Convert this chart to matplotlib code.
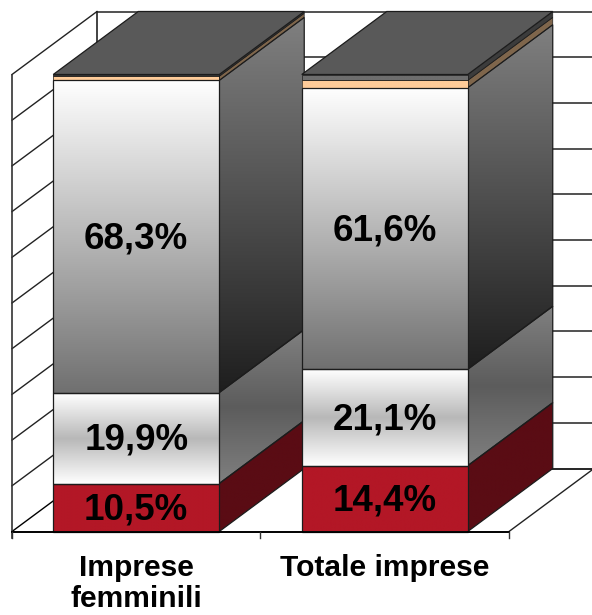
import matplotlib
matplotlib.use("Agg")
import matplotlib.pyplot as plt
import numpy as np
from matplotlib.colors import LinearSegmentedColormap
from matplotlib.patches import Polygon

plt.rcParams['font.family'] = ['Liberation Sans', 'DejaVu Sans']

categories = ["Imprese\nfemminili", "Totale imprese"]
red_values = [10.5, 14.4]
light_values = [19.9, 21.1]
main_values = [68.3, 61.6]
orange_values = [0.9, 1.6]
grey_values = [0.4, 1.3]
shown_labels = [["10,5%", "19,9%", "68,3%"], ["14,4%", "21,1%", "61,6%"]]
grid_ticks = list(range(0, 101, 10))

# scale of the drawing, in pixels per data unit
W, H = 592, 615
PX_X, PX_Y = 248.5, 4.57
X0_PX, Y0_PX = 12, 531.5
BAR_W = 166 / PX_X
DX, DY = 85 / PX_X, 63 / PX_Y
EDGE = "#1c1c1c"

fig = plt.figure(figsize=(W / 100, H / 100), dpi=100)
ax = fig.add_axes([0, 0, 1, 1])
ax.axis("off")
xlim = (-X0_PX / PX_X, (W - X0_PX) / PX_X)
ylim = (-(H - Y0_PX) / PX_Y, Y0_PX / PX_Y)


def gradient_poly(points, colors, z, lw):
    # vertical gradient clipped to a polygon
    pts = np.array(points)
    cmap = LinearSegmentedColormap.from_list("g", colors)
    ramp = np.linspace(0, 1, 256).reshape(-1, 1)
    ext = (pts[:, 0].min(), pts[:, 0].max(), pts[:, 1].min(), pts[:, 1].max())
    im = ax.imshow(ramp, extent=ext, origin="upper", cmap=cmap, aspect="auto",
                   zorder=z, interpolation="bilinear")
    poly = Polygon(pts, closed=True, facecolor="none", edgecolor=EDGE, lw=lw, zorder=z + 0.1)
    ax.add_patch(poly)
    im.set_clip_path(poly)


def draw_segment(x, bottom, height, front, side, z, lw=0.9):
    top = bottom + height
    gradient_poly([(x + BAR_W, bottom), (x + BAR_W + DX, bottom + DY),
                   (x + BAR_W + DX, top + DY), (x + BAR_W, top)], side, z, lw)
    gradient_poly([(x, bottom), (x + BAR_W, bottom), (x + BAR_W, top), (x, top)], front, z + 0.2, lw)


# walls and floor
for t in grid_ticks[1:]:
    ax.plot([DX, xlim[1]], [t + DY, t + DY], color="#333333", lw=1.2, zorder=1)
    ax.plot([0, DX], [t, t + DY], color="#222222", lw=1.0, zorder=1)
ax.plot([DX, xlim[1]], [DY, DY], color="black", lw=1.2, zorder=1)
ax.plot([0, DX], [0, DY], color="black", lw=1.0, zorder=1)
ax.plot([2, 2 + DX], [0, DY], color="#222222", lw=1.0, zorder=1)
ax.plot([0, 0], [-1.5, 100], color="#333333", lw=1.2, zorder=1)
ax.plot([DX, DX], [DY, 100 + DY], color="#222222", lw=1.2, zorder=1)
ax.plot([0, 2], [0, 0], color="black", lw=1.4, zorder=8)
for xt in [0, 1, 2]:
    ax.plot([xt, xt], [-1.5, 0], color="#333333", lw=1.0, zorder=8)

# stacked bars, left one first so the right one overlaps it
for i in range(len(categories)):
    x = i + (1 - BAR_W) / 2
    z = 2 + i
    segs = [
        (red_values[i], ["#b31726", "#b31726"], ["#5a0c14", "#5a0c14"], 0.9),
        (light_values[i], ["#ffffff", "#b8b8b8", "#ffffff"], ["#808080", "#5c5c5c", "#808080"], 0.9),
        (main_values[i], ["#ffffff", "#707070"], ["#808080", "#1e1e1e"], 0.9),
        (orange_values[i], ["#ffcc99", "#ffcc99"], ["#7f664c", "#7f664c"], 0.5),
        (grey_values[i], ["#6e6e6e", "#6e6e6e"], ["#3c3c3c", "#3c3c3c"], 0.5),
    ]
    bottom = 0
    for value, front, side, lw in segs:
        draw_segment(x, bottom, value, front, side, z, lw)
        bottom += value
    ax.add_patch(Polygon([(x, bottom), (x + BAR_W, bottom), (x + BAR_W + DX, bottom + DY), (x + DX, bottom + DY)],
                         closed=True, facecolor="#595959", edgecolor=EDGE, lw=0.9, zorder=z + 0.5))

    centers = [red_values[i] / 2, red_values[i] + light_values[i] / 2,
               red_values[i] + light_values[i] + main_values[i] / 2]
    for c, lab in zip(centers, shown_labels[i]):
        ax.text(x + BAR_W / 2, c - 0.5, lab, ha="center", va="center", fontsize=26.5,
                fontweight="bold", color="black", zorder=10)

    ax.text(i + 0.5, -5.0, categories[i], ha="center", va="top", fontsize=21.6,
            fontweight="bold", color="black", linespacing=1.12, zorder=10)

ax.set_xlim(*xlim)
ax.set_ylim(*ylim)
fig.savefig("out.png", dpi=100)
